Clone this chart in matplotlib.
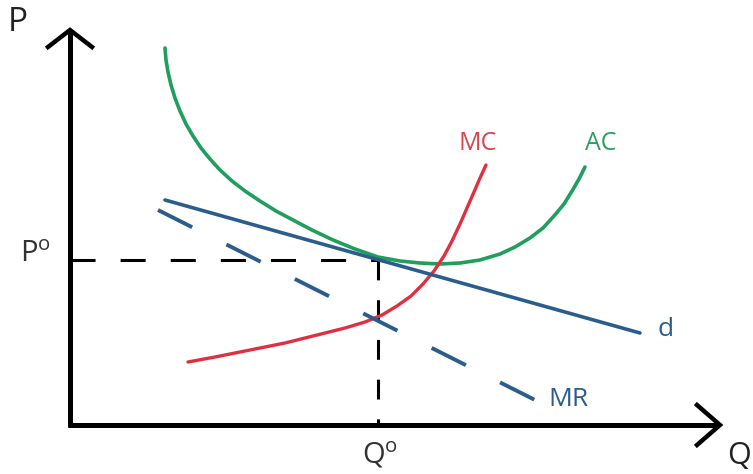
import matplotlib.pyplot as plt

plt.rcParams['font.family'] = ['Open Sans', 'DejaVu Sans']
plt.rcParams['mathtext.fontset'] = 'custom'
plt.rcParams['mathtext.rm'] = 'Open Sans'
plt.rcParams['mathtext.sf'] = 'Open Sans'

# points (pixel-like units, y grows downward)
ac_x = [165, 166, 168, 171, 175, 180, 186, 193, 201, 210, 220, 232, 245, 260, 276, 293, 312, 333, 355, 378,
        400, 420, 440, 460, 480, 500, 515, 530, 543, 554, 564, 572, 579, 585]
ac_y = [48, 60, 72, 85, 98, 111, 124, 136, 148, 159, 170, 181, 191, 201, 211, 220, 230, 240, 249, 257,
        261, 263, 264, 263, 260, 254, 247, 238, 228, 216, 204, 191, 179, 167]
mc_x = [188, 215, 250, 285, 317, 345, 365, 382, 397, 411, 423, 434, 444, 452, 460, 467, 474, 480, 486]
mc_y = [362, 357, 350, 343, 335, 328, 322, 315, 306, 296, 284, 271, 256, 241, 224, 208, 192, 178, 165]
d_x = [165, 640]
d_y = [200, 333]
mr_x = [158, 535]
mr_y = [210, 400]
p0, q0 = 260, 378
origin_x, origin_y = 70, 425

blue = '#2b5d8c'
green = '#1f9e5c'
red = '#e03040'

fig = plt.figure(figsize=(7.53, 4.74), dpi=100)
ax = fig.add_axes([0, 0, 1, 1])
ax.set_xlim(0, 753)
ax.set_ylim(474, 0)
ax.axis('off')

# axes with open arrow heads
ax.plot([origin_x, origin_x], [origin_y + 2, 32], color='black', lw=3.6, solid_capstyle='butt')
ax.plot([48, origin_x, 92], [47, 30, 47], color='black', lw=3.2, solid_joinstyle='miter')
ax.plot([origin_x - 2, 718], [origin_y, origin_y], color='black', lw=3.6, solid_capstyle='butt')
ax.plot([697, 720, 697], [405, origin_y, 445], color='black', lw=3.2, solid_joinstyle='miter')

# P0 / Q0 guide lines
ax.plot([origin_x, q0], [p0, p0], color='black', lw=2.2, dashes=(8.2, 8.2))
ax.plot([q0, q0], [p0, origin_y], color='black', lw=2.2, dashes=(6.5, 6.5))

ax.plot(ac_x, ac_y, color=green, lw=2.6, solid_capstyle='round', solid_joinstyle='round')
ax.plot(mc_x, mc_y, color=red, lw=2.4, solid_capstyle='round', solid_joinstyle='round')
ax.plot(d_x, d_y, color=blue, lw=2.6, solid_capstyle='round')
ax.plot(mr_x, mr_y, color=blue, lw=2.8, dashes=(9.85, 9.85))

ax.text(8, 22, 'P', fontsize=24, color='#222222', ha='left', va='center')
ax.text(727, 456, 'Q', fontsize=22, color='#222222', ha='left', va='center')
ax.text(20, 255, r'P$^{\mathrm{o}}$', fontsize=21, color='#333333', ha='left', va='center')
ax.text(362, 455, r'Q$^{\mathrm{o}}$', fontsize=21, color='#333333', ha='left', va='center')
ax.text(478, 143, 'MC', fontsize=18, color='#d8434c', ha='center', va='center')
ax.text(601, 143, 'AC', fontsize=18, color='#2a9e60', ha='center', va='center')
ax.text(658, 329, 'd', fontsize=19, color=blue, ha='left', va='center')
ax.text(548, 400, 'MR', fontsize=19, color=blue, ha='left', va='center')

fig.savefig('out.png', dpi=100)
